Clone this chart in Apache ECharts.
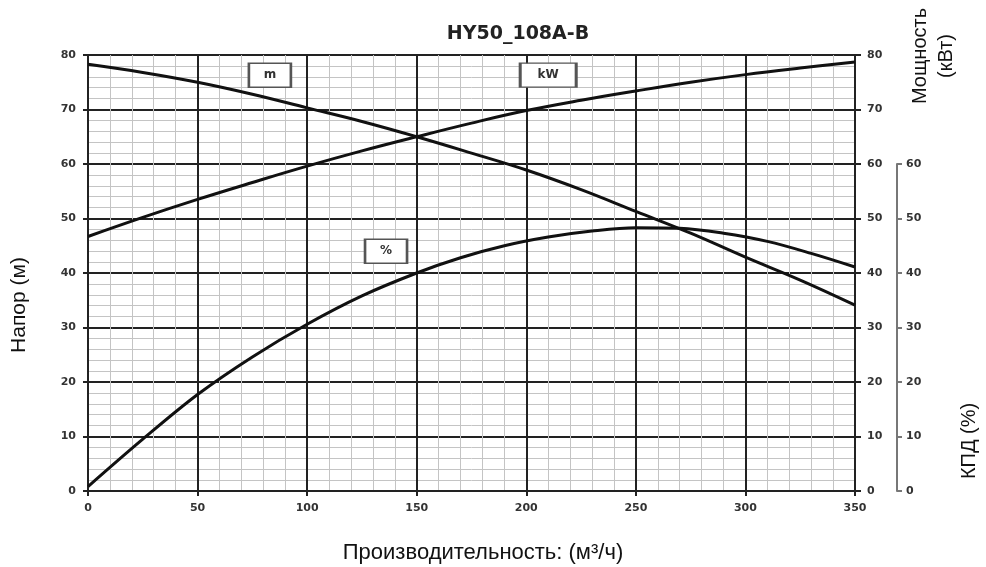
<!DOCTYPE html>
<html><head><meta charset="utf-8">
<script src="https://cdn.jsdelivr.net/npm/echarts@6/dist/echarts.min.js"></script>
<style>html,body{margin:0;padding:0;background:#fff}#c{width:986px;height:567px}</style>
</head><body><div id="c"></div>
<script>
const flow = [0,25,50,75,100,125,150,175,200,225,250,275,300,325,350];
const head = [78.3,76.8,75.0,72.8,70.3,67.8,65.0,62.0,58.9,55.3,51.3,47.3,42.9,38.7,34.1];
const power = [46.7,50.2,53.5,56.6,59.6,62.4,65.0,67.5,69.8,71.7,73.4,75.0,76.4,77.6,78.7];
const flowEff = [0,25,50,75,100,125,150,170,190,210,230,250,270,290,310,330,350];
const eff = [0.8,9.5,17.7,24.6,30.6,35.8,40.0,42.8,45.0,46.6,47.7,48.3,48.2,47.3,45.8,43.6,41.1];
const tagHead = {text:'m', at:[83,76.3]};
const tagPower = {text:'kW', at:[210,76.3]};
const tagEff = {text:'%', at:[136,44]};

const pair = (xs, ys) => xs.map((x,i)=>[x, ys[i]]);
const tickFont = {fontFamily:'DejaVu Sans', fontWeight:'bold', fontSize:11, color:'#333'};
const lineStyle = {color:'#111', width:3};
function tag(t){
  return {symbol:'rect', symbolSize:[t.text.length>1?56:42,24], silent:true,
    itemStyle:{color:'#fff', borderColor:'#555', borderWidth:2},
    label:{show:true, position:'inside', formatter:t.text, fontFamily:'DejaVu Sans', fontWeight:'bold', fontSize:12, color:'#333'},
    data:[{coord:t.at}]};
}
const chart = echarts.init(document.getElementById('c'));
chart.setOption({
  animation:false,
  backgroundColor:'#fff',
  title:{text:'HY50_108A-B', left:513, textAlign:'center', top:20,
    textStyle:{fontFamily:'DejaVu Sans', fontWeight:'bold', fontSize:19, color:'#222'}},
  grid:[{left:88, right:131, top:55, bottom:76},
        {left:88, right:131, top:164, bottom:76}],
  xAxis:[
    {type:'value', gridIndex:0, min:0, max:350, interval:50,
     axisLine:{lineStyle:{color:'#222', width:2}}, axisTick:{show:true, length:5, lineStyle:{color:'#222', width:2}},
     axisLabel:Object.assign({margin:12}, tickFont),
     splitLine:{show:true, lineStyle:{color:'#222', width:2}},
     minorTick:{show:false, splitNumber:5},
     minorSplitLine:{show:true, lineStyle:{color:'#c4c4c4', width:1}}},
    {type:'value', gridIndex:1, min:0, max:350, show:false}
  ],
  yAxis:[
    {type:'value', gridIndex:0, position:'left', min:0, max:80, interval:10,
     axisLine:{show:true, onZero:false, lineStyle:{color:'#222', width:2}}, axisTick:{show:true, length:5, lineStyle:{color:'#222', width:2}},
     axisLabel:Object.assign({margin:12}, tickFont),
     splitLine:{show:true, lineStyle:{color:'#222', width:2}},
     minorTick:{show:false, splitNumber:5},
     minorSplitLine:{show:true, lineStyle:{color:'#c4c4c4', width:1}}},
    {type:'value', gridIndex:0, position:'right', min:0, max:80, interval:10,
     axisLine:{show:true, onZero:false, lineStyle:{color:'#222', width:2}}, axisTick:{show:true, length:6, lineStyle:{color:'#222', width:2}},
     axisLabel:Object.assign({margin:12}, tickFont), splitLine:{show:false}},
    {type:'value', gridIndex:1, position:'right', offset:42, min:0, max:60, interval:10,
     axisLine:{show:true, onZero:false, lineStyle:{color:'#777', width:2}}, axisTick:{show:true, length:5, lineStyle:{color:'#777', width:2}},
     axisLabel:Object.assign({margin:9}, tickFont), splitLine:{show:false}}
  ],
  series:[
    {name:'m', type:'line', xAxisIndex:0, yAxisIndex:0, data:pair(flow, head), smooth:0.4, showSymbol:false, lineStyle, markPoint:tag(tagHead), z:5},
    {name:'kW', type:'line', xAxisIndex:0, yAxisIndex:1, data:pair(flow, power), smooth:0.4, showSymbol:false, lineStyle, markPoint:tag(tagPower), z:5},
    {name:'%', type:'line', xAxisIndex:1, yAxisIndex:2, data:pair(flowEff, eff), smooth:0.35, showSymbol:false, lineStyle, markPoint:tag(tagEff), z:5}
  ],
  graphic:[
    {type:'text', x:19, y:305, rotation:Math.PI/2, style:{text:'Напор (м)', font:'21px "Liberation Sans"', fill:'#111', align:'center', verticalAlign:'middle'}},
    {type:'text', x:483, y:553, style:{text:'Производительность: (м³/ч)', font:'22px "Liberation Sans"', fill:'#111', align:'center', verticalAlign:'middle'}},
    {type:'text', x:933, y:56, rotation:Math.PI/2, style:{text:'Мощность\n(кВт)', font:'20px "Liberation Sans"', lineHeight:26, fill:'#111', align:'center', verticalAlign:'middle'}},
    {type:'text', x:969, y:441, rotation:Math.PI/2, style:{text:'КПД (%)', font:'20px "Liberation Sans"', fill:'#111', align:'center', verticalAlign:'middle'}}
  ]
});
</script></body></html>
